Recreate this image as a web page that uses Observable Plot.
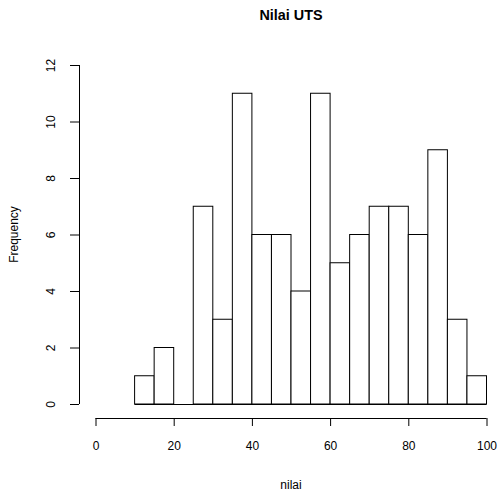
<!DOCTYPE html>
<html><head><meta charset="utf-8">
<script src="https://cdn.jsdelivr.net/npm/d3@7"></script>
<script src="https://cdn.jsdelivr.net/npm/@observablehq/plot@0.6"></script>
<style>body{margin:0;background:#fff}</style>
</head><body><div id="chart"></div>
<script>
const binStart = [10,15,20,25,30,35,40,45,50,55,60,65,70,75,80,85,90,95];
const binWidth = 5;
const counts = [1,2,0,7,3,11,6,6,4,11,5,6,7,7,6,9,3,1];
const xTicks = [0,20,40,60,80,100];
const yTicks = [0,2,4,6,8,10,12];
const title = "Nilai UTS";
const xLabel = "nilai";
const yLabel = "Frequency";

const bins = binStart.map((s,i)=>({x1:s, x2:s+binWidth, y:counts[i]}));
const font = "Liberation Sans, Arial, Helvetica, sans-serif";

const plot = Plot.plot({
  width: 502, height: 490,
  marginLeft: 95.5, marginRight: 15.5, marginTop: 65, marginBottom: 86,
  style: {fontFamily: font, fontSize: "12px", background: "#fff"},
  x: {domain: [0,100], axis: null, label: null},
  y: {domain: [0,12], axis: null, label: null},
  marks: [
    Plot.ruleY([0], {x1: binStart[0], x2: binStart[binStart.length-1] + binWidth, stroke:"black"}),
    Plot.rectY(bins, {x1:"x1", x2:"x2", y:"y", fill:"white", stroke:"black", strokeWidth:1, insetLeft:0, insetRight:0}),
    // x axis
    Plot.ruleY([0], {x1: xTicks[0], x2: xTicks[xTicks.length-1], dy: 14, stroke:"black"}),
    Plot.axisX({ticks: xTicks, tickSize: 8, dy: 14, tickPadding: 15, fontSize: 12, stroke:"black", fill:"black", label: null, tickFormat: d=>String(d)}),
    // y axis
    Plot.ruleX([0], {y1: yTicks[0], y2: yTicks[yTicks.length-1], dx: -16.5, stroke:"black"}),
    Plot.axisY({ticks: yTicks, tickSize: 9, dx: -16.5, label: null, tickFormat: ()=>"", stroke:"black"}),
    Plot.text(yTicks, {y: d=>d, x: xTicks[0], dx: -44.5, rotate: -90, text: d=>String(d), fontSize: 12, fill:"black"})
  ]
});
const svg = d3.select(plot);
svg.append("text").attr("x",291).attr("y",19.5).attr("text-anchor","middle")
  .attr("font-family",font).attr("font-size","14.4px").attr("font-weight","bold").text(title);
svg.append("text").attr("x",291).attr("y",488.5).attr("text-anchor","middle")
  .attr("font-family",font).attr("font-size","12px").text(xLabel);
svg.append("text").attr("transform","translate(18,234.5) rotate(-90)").attr("text-anchor","middle")
  .attr("font-family",font).attr("font-size","12px").text(yLabel);
document.getElementById("chart").appendChild(plot);
</script></body></html>
